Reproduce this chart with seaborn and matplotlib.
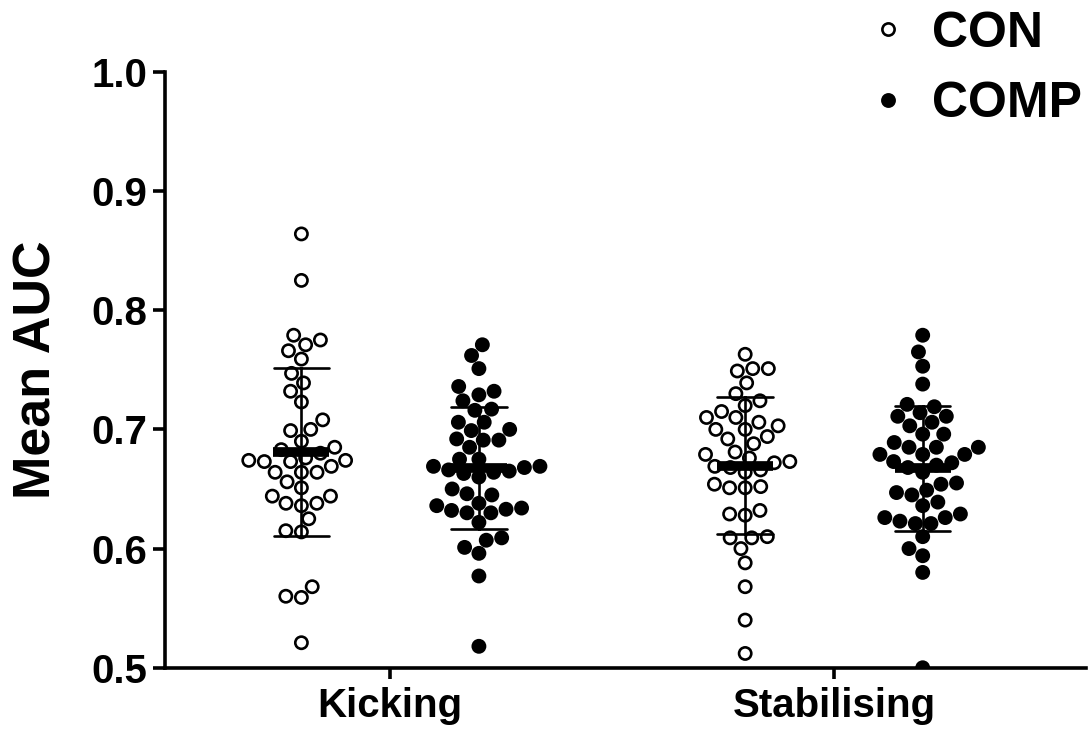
import numpy as np
import pandas as pd
import seaborn as sns
import matplotlib
matplotlib.use("Agg")
import matplotlib.pyplot as plt

tasks = ["Kicking", "Stabilising"]
groups = ["CON", "COMP"]

kicking_con = [0.864, 0.825, 0.779, 0.775, 0.771, 0.766, 0.759, 0.747, 0.739, 0.732,
               0.723, 0.708, 0.700, 0.699, 0.690, 0.685, 0.683, 0.680, 0.673, 0.673,
               0.676, 0.674, 0.674, 0.664, 0.664, 0.669, 0.664, 0.656, 0.651, 0.644,
               0.644, 0.638, 0.636, 0.638, 0.625, 0.615, 0.614, 0.568, 0.559, 0.560,
               0.521]
kicking_comp = [0.771, 0.762, 0.751, 0.736, 0.732, 0.729, 0.724, 0.716, 0.717, 0.706,
                0.706, 0.699, 0.700, 0.691, 0.692, 0.691, 0.685, 0.675, 0.675, 0.664,
                0.663, 0.665, 0.666, 0.669, 0.660, 0.668, 0.669, 0.650, 0.646, 0.638,
                0.634, 0.645, 0.630, 0.632, 0.636, 0.633, 0.630, 0.622, 0.609, 0.607,
                0.601, 0.596, 0.577, 0.518]
stab_con = [0.763, 0.751, 0.751, 0.749, 0.739, 0.730, 0.724, 0.720, 0.715, 0.710,
            0.706, 0.703, 0.710, 0.700, 0.700, 0.692, 0.694, 0.688, 0.681, 0.679,
            0.676, 0.673, 0.669, 0.668, 0.664, 0.666, 0.672, 0.652, 0.651, 0.651,
            0.654, 0.628, 0.629, 0.632, 0.609, 0.610, 0.609, 0.600, 0.588, 0.568,
            0.540, 0.512]
stab_comp = [0.779, 0.765, 0.753, 0.738, 0.721, 0.719, 0.714, 0.711, 0.706, 0.711,
             0.703, 0.696, 0.696, 0.689, 0.685, 0.685, 0.679, 0.679, 0.679, 0.685,
             0.673, 0.670, 0.672, 0.664, 0.668, 0.654, 0.655, 0.649, 0.647, 0.645,
             0.639, 0.636, 0.626, 0.629, 0.621, 0.623, 0.621, 0.626, 0.610, 0.600,
             0.594, 0.580, 0.500]

rows = []
for task, group, vals in [("Kicking", "CON", kicking_con), ("Kicking", "COMP", kicking_comp),
                          ("Stabilising", "CON", stab_con), ("Stabilising", "COMP", stab_comp)]:
    for v in vals:
        rows.append({"task": task, "group": group, "auc": v})
df = pd.DataFrame(rows)

sns.set_style("ticks")
plt.rcParams["font.family"] = ["Liberation Sans", "DejaVu Sans"]
plt.rcParams["font.weight"] = "bold"
for key in ["text.color", "axes.labelcolor", "xtick.color", "ytick.color", "axes.edgecolor"]:
    plt.rcParams[key] = "black"

fig = plt.figure(figsize=(10.88, 7.33), dpi=100)
ax = fig.add_axes([0.152, 0.089, 0.846, 0.813])

sns.swarmplot(data=df, x="task", y="auc", hue="group", order=tasks, hue_order=groups,
              dodge=True, palette={"CON": "white", "COMP": "black"},
              edgecolor="black", linewidth=1.9, size=8.8, ax=ax, zorder=2)

# mean +/- SD drawn on top of the swarms
sns.pointplot(data=df, x="task", y="auc", hue="group", order=tasks, hue_order=groups,
              dodge=0.4, palette={"CON": "black", "COMP": "black"}, errorbar="sd",
              capsize=0.125, linestyle="none", marker="_", markersize=40,
              markeredgewidth=7, err_kws={"linewidth": 1.9}, legend=False, ax=ax)
for coll in ax.lines:
    coll.set_zorder(5)

ax.set_ylim(0.5, 1.0)
ax.set_xlim(-0.5065, 1.5676)
ax.set_yticks(np.arange(0.5, 1.01, 0.1))
ax.set_yticklabels([f"{t:.1f}" for t in np.arange(0.5, 1.01, 0.1)])
ax.set_xlabel("")
ax.set_ylabel("Mean AUC", fontsize=37.5, fontweight="bold", labelpad=21.5)
ax.tick_params(axis="y", labelsize=29, length=9, width=2.6, pad=4)
ax.tick_params(axis="x", labelsize=29, length=8, width=2.6, pad=6)
for lbl in ax.get_xticklabels() + ax.get_yticklabels():
    lbl.set_fontweight("bold")
for side in ["left", "bottom"]:
    ax.spines[side].set_linewidth(2.6)
sns.despine(ax=ax)

sns.move_legend(ax, "upper left", bbox_to_anchor=(0.7564, 1.047), bbox_transform=fig.transFigure,
                frameon=False, title=None, fontsize=36, handlelength=0.8, handletextpad=0.48,
                labelspacing=0.49, markerscale=1.0)
for t in ax.get_legend().get_texts():
    t.set_fontweight("bold")

fig.savefig("out.png", dpi=100)
